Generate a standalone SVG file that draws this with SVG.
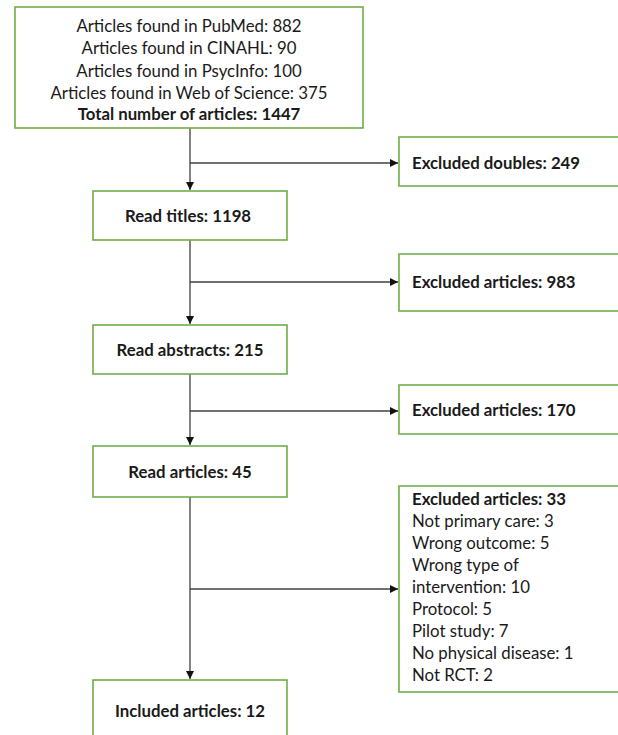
<svg xmlns="http://www.w3.org/2000/svg" width="618" height="735" viewBox="0 0 618 735">
<style>
.box{fill:#fff;stroke:#70AD47;stroke-width:1.6}
.t{font-family:Lato,"Noto Sans","Liberation Sans",sans-serif;font-size:16.8px;fill:#1a1a1a}
.b{font-weight:bold}
.c{text-anchor:middle}
.ln{stroke:#404040;stroke-width:1.3;fill:none}
</style>
<defs>
<marker id="ah" markerWidth="8" markerHeight="8" refX="8" refY="4" orient="auto" markerUnits="userSpaceOnUse">
<path d="M0,0 L8,4 L0,8 Z" fill="#111"/>
</marker>
</defs>
<rect width="618" height="735" fill="#fff"/>
<g id="connectors">
<line class="ln" x1="190" y1="128" x2="190" y2="190" marker-end="url(#ah)"/>
<line class="ln" x1="190" y1="163" x2="398" y2="163" marker-end="url(#ah)"/>
<line class="ln" x1="190" y1="240" x2="190" y2="324" marker-end="url(#ah)"/>
<line class="ln" x1="190" y1="282" x2="398" y2="282" marker-end="url(#ah)"/>
<line class="ln" x1="190" y1="374" x2="190" y2="445" marker-end="url(#ah)"/>
<line class="ln" x1="190" y1="411" x2="398" y2="411" marker-end="url(#ah)"/>
<line class="ln" x1="190" y1="497" x2="190" y2="679" marker-end="url(#ah)"/>
<line class="ln" x1="190" y1="589" x2="398" y2="589" marker-end="url(#ah)"/>
</g>
<g id="sources">
<rect class="box" x="15" y="7" width="348" height="121"/>
<text class="t c" x="189" y="32">Articles found in PubMed: 882</text>
<text class="t c" x="189" y="54">Articles found in CINAHL: 90</text>
<text class="t c" x="189" y="77">Articles found in PsycInfo: 100</text>
<text class="t c" x="189" y="99">Articles found in Web of Science: 375</text>
<text class="t c b" x="189" y="120">Total number of articles: 1447</text>
</g>
<g id="excluded-doubles">
<rect class="box" x="399" y="137" width="235" height="49"/>
<text class="t b" x="412" y="169">Excluded doubles: 249</text>
</g>
<g id="read-titles">
<rect class="box" x="93" y="191" width="194" height="49"/>
<text class="t c b" x="188" y="222">Read titles: 1198</text>
</g>
<g id="excluded-983">
<rect class="box" x="399" y="254" width="235" height="57"/>
<text class="t b" x="412" y="288">Excluded articles: 983</text>
</g>
<g id="read-abstracts">
<rect class="box" x="93" y="325" width="194" height="49"/>
<text class="t c b" x="190" y="356">Read abstracts: 215</text>
</g>
<g id="excluded-170">
<rect class="box" x="399" y="385" width="235" height="49"/>
<text class="t b" x="412" y="416">Excluded articles: 170</text>
</g>
<g id="read-articles">
<rect class="box" x="93" y="446" width="194" height="51"/>
<text class="t c b" x="190" y="478">Read articles: 45</text>
</g>
<g id="excluded-33">
<rect class="box" x="399" y="486" width="235" height="206"/>
<text class="t b" x="412" y="505">Excluded articles: 33</text>
<text class="t" x="412" y="527">Not primary care: 3</text>
<text class="t" x="412" y="549">Wrong outcome: 5</text>
<text class="t" x="412" y="571">Wrong type of</text>
<text class="t" x="412" y="593">intervention: 10</text>
<text class="t" x="412" y="615">Protocol: 5</text>
<text class="t" x="412" y="637">Pilot study: 7</text>
<text class="t" x="412" y="659">No physical disease: 1</text>
<text class="t" x="412" y="681">Not RCT: 2</text>
</g>
<g id="included">
<rect class="box" x="93" y="680" width="194" height="70"/>
<text class="t c b" x="190" y="717">Included articles: 12</text>
</g>
</svg>
